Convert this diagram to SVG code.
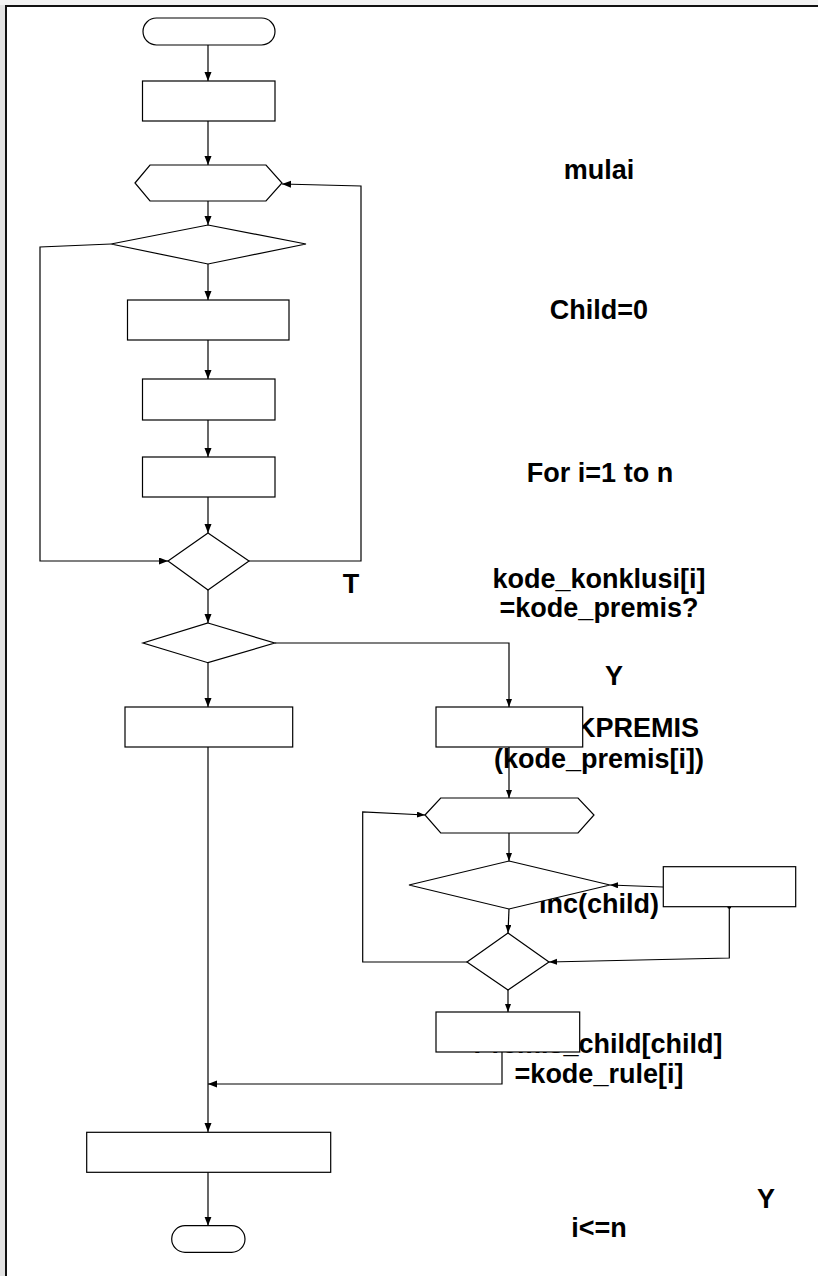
<svg xmlns="http://www.w3.org/2000/svg" width="818" height="1276" viewBox="0 0 818 1276">
<style>
.shape{fill:#fff;stroke:#000;stroke-width:1.2}
.conn{fill:none;stroke:#000;stroke-width:1.2}
.lbl{font-family:"Liberation Sans",Arial,sans-serif;font-weight:bold;font-size:27px;fill:#000;text-anchor:middle}
</style>
<defs>
<marker id="arr" markerUnits="userSpaceOnUse" markerWidth="10" markerHeight="8" refX="9" refY="3.5" orient="auto">
<path d="M0,0 L9,3.5 L0,7 z" fill="#000"/>
</marker>
<marker id="arrs" markerUnits="userSpaceOnUse" markerWidth="9" markerHeight="7" refX="8" refY="3" orient="auto">
<path d="M0,0 L8,3 L0,6 z" fill="#000"/>
</marker>
</defs>
<rect x="0" y="0" width="818" height="1276" fill="#fff"/>
<rect x="0" y="0" width="5" height="1276" fill="#e2e2e2"/>
<rect x="0" y="0" width="818" height="5" fill="#f2f2f2"/>
<path d="M6,1276 V6 H818" fill="none" stroke="#111" stroke-width="2"/>

<g id="labels">
<text class="lbl" x="599" y="179">mulai</text>
<text class="lbl" x="599" y="319">Child=0</text>
<text class="lbl" x="600" y="482">For i=1 to n</text>
<text class="lbl" x="599" y="588">kode_konklusi[i]</text>
<text class="lbl" x="599" y="617">=kode_premis?</text>
<text class="lbl" x="351" y="593">T</text>
<text class="lbl" x="614" y="685">Y</text>
<text class="lbl" x="699" y="737" style="text-anchor:end">KPREMIS</text>
<text class="lbl" x="599" y="768">(kode_premis[i])</text>
<text class="lbl" x="599" y="913">inc(child)</text>
<text class="lbl" x="598" y="1053">Premis_child[child]</text>
<text class="lbl" x="599" y="1083">=kode_rule[i]</text>
<text class="lbl" x="766" y="1208">Y</text>
<text class="lbl" x="599" y="1237">i&lt;=n</text>
</g>

<g id="connectors">
<path class="conn" d="M208,45 V81" marker-end="url(#arr)"/>
<path class="conn" d="M208,121 V165" marker-end="url(#arr)"/>
<path class="conn" d="M208,201 V225" marker-end="url(#arr)"/>
<path class="conn" d="M208,264 V300" marker-end="url(#arr)"/>
<path class="conn" d="M208,340 V379" marker-end="url(#arr)"/>
<path class="conn" d="M208,420 V457" marker-end="url(#arr)"/>
<path class="conn" d="M208,497 V533" marker-end="url(#arr)"/>
<path class="conn" d="M111,244 L40,247 V561 H168" marker-end="url(#arr)"/>
<path class="conn" d="M249,561 H361 V186 L282,184" marker-end="url(#arr)"/>
<path class="conn" d="M208,590 V623" marker-end="url(#arr)"/>
<path class="conn" d="M208,663 V707" marker-end="url(#arr)"/>
<path class="conn" d="M274.7,643 H509 V707" marker-end="url(#arrs)"/>
<path class="conn" d="M208,747 V1132" marker-end="url(#arr)"/>
<path class="conn" d="M509,747 V798" marker-end="url(#arrs)"/>
<path class="conn" d="M509,833 V861" marker-end="url(#arrs)"/>
<path class="conn" d="M509,909 L508,933" marker-end="url(#arrs)"/>
<path class="conn" d="M508,990 V1012" marker-end="url(#arrs)"/>
<path class="conn" d="M663,887 L610,885" marker-end="url(#arrs)"/>
<path class="conn" d="M729.3,906.7 V958 L549,962" marker-end="url(#arrs)"/>
<path class="conn" d="M467,962 H362.7 V812 L425,815" marker-end="url(#arrs)"/>
<path class="conn" d="M502,1052 V1084 H208" marker-end="url(#arr)"/>
<path class="conn" d="M208,1172 V1225.7" marker-end="url(#arr)"/>
<circle cx="729.3" cy="906.7" r="2" fill="#000"/>
</g>

<g id="start"><rect class="shape" x="143" y="18" width="132" height="27" rx="13.5"/></g>
<g id="proc1"><rect class="shape" x="142.5" y="81" width="132.5" height="40"/></g>
<g id="loop1"><polygon class="shape" points="135,183 150,165 266,165 282,183 266,201 150,201"/></g>
<g id="dec1"><polygon class="shape" points="208,225 306,244 208,264 111,244"/></g>
<g id="proc2"><rect class="shape" x="127.5" y="300" width="161.5" height="40"/></g>
<g id="proc3"><rect class="shape" x="142.5" y="379" width="132.5" height="41"/></g>
<g id="proc4"><rect class="shape" x="142.5" y="457" width="132.5" height="40"/></g>
<g id="dec2"><polygon class="shape" points="208,533 249,561 208,590 168,561"/></g>
<g id="dec3"><polygon class="shape" points="208,623 274.7,643 208,662.7 143,643"/></g>
<g id="proc5"><rect class="shape" x="125" y="707" width="167.7" height="40"/></g>
<g id="proc6"><rect class="shape" x="436" y="707" width="146.7" height="40"/></g>
<g id="loop2"><polygon class="shape" points="425,815 440.7,798 578,798 594,815 578,833 440.7,833"/></g>
<g id="dec4"><polygon class="shape" points="509,861 610,885 509,909 409,885"/></g>
<g id="proc9"><rect class="shape" x="663.3" y="866.7" width="132.4" height="40"/></g>
<g id="dec5"><polygon class="shape" points="508,933 549,962 508,990 467,962"/></g>
<g id="proc8"><rect class="shape" x="436" y="1012" width="143.7" height="40"/></g>
<g id="proc7"><rect class="shape" x="86.7" y="1132.3" width="244" height="40"/></g>
<g id="end"><rect class="shape" x="171.7" y="1225.7" width="73.3" height="26.6" rx="13.3"/></g>
</svg>
